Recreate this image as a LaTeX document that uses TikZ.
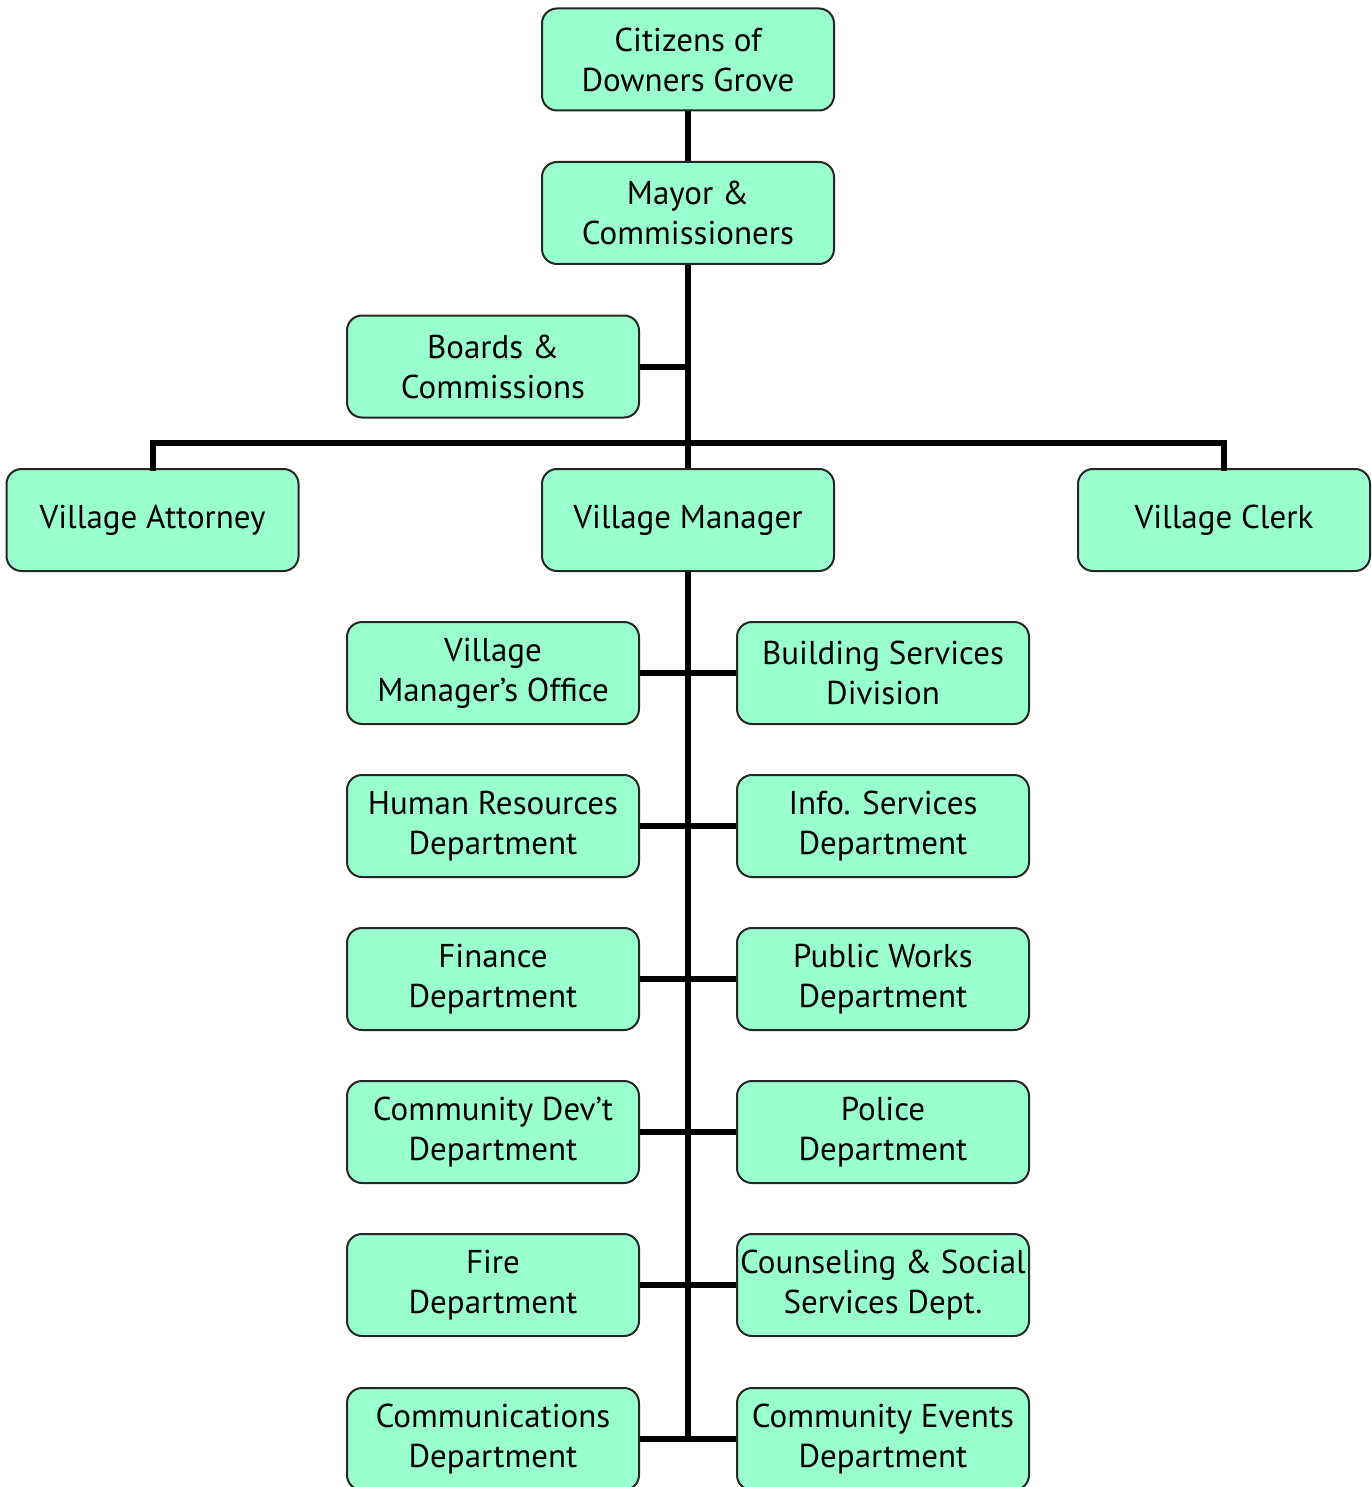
\documentclass[tikz,border=0pt]{standalone}
\usepackage{fontspec}
\setmainfont{PT Sans}
\begin{document}
\begin{tikzpicture}[x=1pt,y=-1pt,
  box/.style={draw=black!85, line width=2pt, fill=boxgreen, rounded corners=15pt,
    minimum width=292pt, minimum height=102pt, align=center, inner sep=0pt,
    font=\fontsize{33}{40}\selectfont},
  link/.style={line width=6pt, draw=black}]
\definecolor{boxgreen}{HTML}{99FFCC}
\useasboundingbox (0,0) rectangle (1371,1487);
\clip (0,0) rectangle (1371,1487);
% nodes
\node[box] (cit) at (688,59.5) {Citizens of\\Downers Grove};
\node[box] (may) at (688,213) {Mayor \&\\Commissioners};
\node[box] (brd) at (493,366.5) {Boards \&\\Commissions};
\node[box] (att) at (152.5,520) {Village Attorney};
\node[box] (man) at (688,520) {Village Manager};
\node[box] (clk) at (1224,520) {Village Clerk};
\node[box] (l1) at (493,673) {Village\\Manager’s Office};
\node[box] (r1) at (883,673) {Building Services\\Division};
\node[box] (l2) at (493,826) {Human Resources\\Department};
\node[box] (r2) at (883,826) {Info. Services\\Department};
\node[box] (l3) at (493,979) {Finance\\Department};
\node[box] (r3) at (883,979) {Public Works\\Department};
\node[box] (l4) at (493,1132) {Community Dev’t\\Department};
\node[box] (r4) at (883,1132) {Police\\Department};
\node[box] (l5) at (493,1285) {Fire\\Department};
\node[box] (r5) at (883,1285) {Counseling \& Social\\Services Dept.};
\node[box] (l6) at (493,1439) {Communications\\Department};
\node[box] (r6) at (883,1439) {Community Events\\Department};
% connectors
\coordinate (bar) at (688,443);
\coordinate (bot) at (688,1439);
\draw[link] (cit.south) -- (may.north);
\draw[link] (may.south) -- (man.north);
\draw[link] (brd.east) -- (brd.east -| may.south);
\draw[link, line cap=rect] (att.north) |- (bar) -| (clk.north);
\draw[link] (man.south) -- (bot);
\foreach \n in {1,...,6}{
  \draw[link] (l\n.east) -- (r\n.west);
}
\end{tikzpicture}
\end{document}
